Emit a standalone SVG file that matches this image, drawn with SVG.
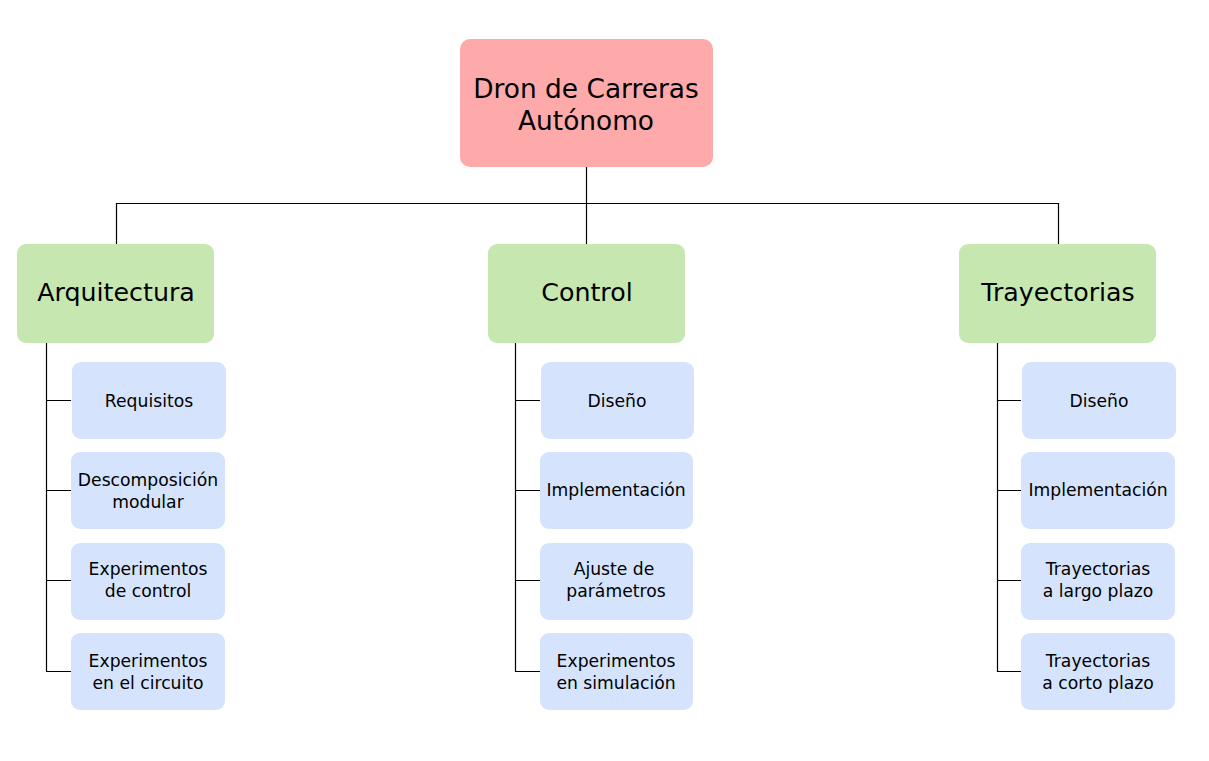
<svg xmlns="http://www.w3.org/2000/svg" width="1209" height="761" viewBox="0 0 1209 761">
<style>
text{font-family:"DejaVu Sans","Liberation Sans",sans-serif;fill:#000;text-anchor:middle;dominant-baseline:central}
.root{fill:#ffaaaa}
.l2{fill:#c6e8b0}
.l3{fill:#d5e4fc}
.t0{font-size:26.4px}
.t1{font-size:25.3px}
.t3{font-size:17.2px}
.c{stroke:#000;stroke-width:1.2;fill:none}
</style>
<rect width="1209" height="761" fill="#fff"/>
<g id="connectors">
<path class="c" d="M586.5 167V244M116.5 244V203.5H1058.5V244"/>
<path class="c" d="M46.5 343V671.5H71M46.5 400.5H71M46.5 490.5H71M46.5 580.5H71"/>
<path class="c" d="M515.5 343V671.5H540M515.5 400.5H540M515.5 490.5H540M515.5 580.5H540"/>
<path class="c" d="M997.5 343V671.5H1021M997.5 400.5H1021M997.5 490.5H1021M997.5 580.5H1021"/>
</g>
<g id="root"><rect class="root" x="460" y="39" width="253" height="128" rx="10"/><text class="t0" x="586" y="88">Dron de Carreras</text><text class="t0" x="586" y="120">Autónomo</text></g>
<g id="arquitectura"><rect class="l2" x="17" y="244" width="197" height="99" rx="9"/><text class="t1" x="116" y="292">Arquitectura</text></g>
<g id="control"><rect class="l2" x="488" y="244" width="197" height="99" rx="9"/><text class="t1" x="587" y="292">Control</text></g>
<g id="trayectorias"><rect class="l2" x="959" y="244" width="197" height="99" rx="9"/><text class="t1" x="1058" y="292">Trayectorias</text></g>
<g id="requisitos"><rect class="l3" x="72" y="362" width="154" height="77" rx="9"/><text class="t3" x="149" y="401">Requisitos</text></g>
<g id="descomposicion"><rect class="l3" x="71" y="452" width="154" height="77" rx="9"/><text class="t3" x="148" y="480">Descomposición</text><text class="t3" x="148" y="502">modular</text></g>
<g id="exp-control"><rect class="l3" x="71" y="543" width="154" height="77" rx="9"/><text class="t3" x="148" y="569">Experimentos</text><text class="t3" x="148" y="591">de control</text></g>
<g id="exp-circuito"><rect class="l3" x="71" y="633" width="154" height="77" rx="9"/><text class="t3" x="148" y="661">Experimentos</text><text class="t3" x="148" y="683">en el circuito</text></g>
<g id="c-diseno"><rect class="l3" x="541" y="362" width="153" height="77" rx="9"/><text class="t3" x="617" y="401">Diseño</text></g>
<g id="c-impl"><rect class="l3" x="540" y="452" width="153" height="77" rx="9"/><text class="t3" x="616" y="490">Implementación</text></g>
<g id="c-ajuste"><rect class="l3" x="540" y="543" width="153" height="77" rx="9"/><text class="t3" x="614" y="569">Ajuste de</text><text class="t3" x="616" y="591">parámetros</text></g>
<g id="c-exp"><rect class="l3" x="540" y="633" width="153" height="77" rx="9"/><text class="t3" x="616" y="661">Experimentos</text><text class="t3" x="616" y="683">en simulación</text></g>
<g id="t-diseno"><rect class="l3" x="1022" y="362" width="154" height="77" rx="9"/><text class="t3" x="1099" y="401">Diseño</text></g>
<g id="t-impl"><rect class="l3" x="1021" y="452" width="154" height="77" rx="9"/><text class="t3" x="1098" y="490">Implementación</text></g>
<g id="t-largo"><rect class="l3" x="1021" y="543" width="154" height="77" rx="9"/><text class="t3" x="1098" y="569">Trayectorias</text><text class="t3" x="1098" y="591">a largo plazo</text></g>
<g id="t-corto"><rect class="l3" x="1021" y="633" width="154" height="77" rx="9"/><text class="t3" x="1098" y="661">Trayectorias</text><text class="t3" x="1098" y="683">a corto plazo</text></g>
</svg>
